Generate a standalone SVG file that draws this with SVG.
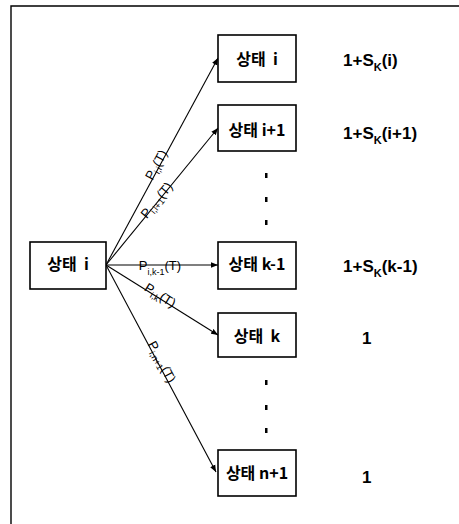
<svg xmlns="http://www.w3.org/2000/svg" width="459" height="524" viewBox="0 0 459 524">
<style>
.box{fill:#fff;stroke:#000;stroke-width:1.6}
.kt{font-family:"Noto Sans CJK KR","Noto Sans",sans-serif;font-size:16px;font-weight:bold;fill:#000;text-anchor:middle}
.val{font-family:"Liberation Sans",Arial,sans-serif;font-size:17px;font-weight:bold;fill:#000}
.sub{font-size:11px}
.lbl{font-family:"Liberation Sans",Arial,sans-serif;font-size:13px;fill:#000;text-anchor:middle}
.ls{font-size:9px}
.edge{stroke:#000;stroke-width:1.1;fill:none;marker-end:url(#ah)}
.dot{fill:#000}
</style>
<defs>
<marker id="ah" viewBox="0 0 10 10" refX="10" refY="5" markerWidth="7" markerHeight="7" markerUnits="userSpaceOnUse" orient="auto">
<path d="M0,1 L10,5 L0,9 z" fill="#000"/>
</marker>
</defs>
<rect width="459" height="524" fill="#fff"/>
<path d="M11,524 V6 H459" fill="none" stroke="#000" stroke-width="1.4"/>

<g id="connectors">
<line class="edge" x1="106" y1="265" x2="218" y2="58"/>
<line class="edge" x1="106" y1="265" x2="218" y2="128"/>
<line class="edge" x1="106" y1="265" x2="218" y2="265"/>
<line class="edge" x1="106" y1="265" x2="218" y2="335"/>
<line class="edge" x1="106" y1="265" x2="216" y2="472"/>
<text class="lbl" transform="translate(160,167) rotate(-61.6)">P<tspan class="ls" dy="3">i,i</tspan><tspan dy="-3">(T)</tspan></text>
<text class="lbl" transform="translate(160,203) rotate(-50.7)">P<tspan class="ls" dy="3">i,i+1</tspan><tspan dy="-3">(T)</tspan></text>
<text class="lbl" x="160" y="270">P<tspan class="ls" dy="5">i,k-1</tspan><tspan dy="-5">(T)</tspan></text>
<text class="lbl" transform="translate(158,299) rotate(32)">P<tspan class="ls" dy="3">i,k</tspan><tspan dy="-3">(T)</tspan></text>
<text class="lbl" transform="translate(158,364) rotate(62)">P<tspan class="ls" dy="3">i,n+1</tspan><tspan dy="-3">(T)</tspan></text>
</g>

<g id="node-left">
<rect class="box" x="30" y="242" width="76" height="47"/>
<text class="kt" x="68" y="270" xml:space="preserve">상태  i</text>
</g>
<g id="node-i">
<rect class="box" x="218" y="35" width="78" height="47"/>
<text class="kt" x="257" y="65" xml:space="preserve">상태  i</text>
</g>
<g id="node-i1">
<rect class="box" x="218" y="105" width="78" height="46"/>
<text class="kt" x="257" y="136">상태 i+1</text>
</g>
<g id="node-k1">
<rect class="box" x="218" y="242" width="78" height="47"/>
<text class="kt" x="257" y="270">상태 k-1</text>
</g>
<g id="node-k">
<rect class="box" x="218" y="313" width="78" height="44"/>
<text class="kt" x="257" y="342" xml:space="preserve">상태  k</text>
</g>
<g id="node-n1">
<rect class="box" x="218" y="450" width="78" height="46"/>
<text class="kt" x="257" y="479">상태 n+1</text>
</g>

<g id="dots">
<rect class="dot" x="265" y="173" width="2.5" height="5"/>
<rect class="dot" x="265" y="197" width="2.5" height="5"/>
<rect class="dot" x="265" y="220" width="2.5" height="5"/>
<rect class="dot" x="265" y="380" width="2.5" height="5"/>
<rect class="dot" x="265" y="405" width="2.5" height="5"/>
<rect class="dot" x="265" y="428" width="2.5" height="5"/>
</g>

<g id="values">
<text class="val" x="343" y="66">1+S<tspan class="sub" dy="5">K</tspan><tspan dy="-5">(i)</tspan></text>
<text class="val" x="343" y="139">1+S<tspan class="sub" dy="5">K</tspan><tspan dy="-5">(i+1)</tspan></text>
<text class="val" x="343" y="272">1+S<tspan class="sub" dy="5">K</tspan><tspan dy="-5">(k-1)</tspan></text>
<text class="val" x="362" y="344">1</text>
<text class="val" x="362" y="483">1</text>
</g>
</svg>
